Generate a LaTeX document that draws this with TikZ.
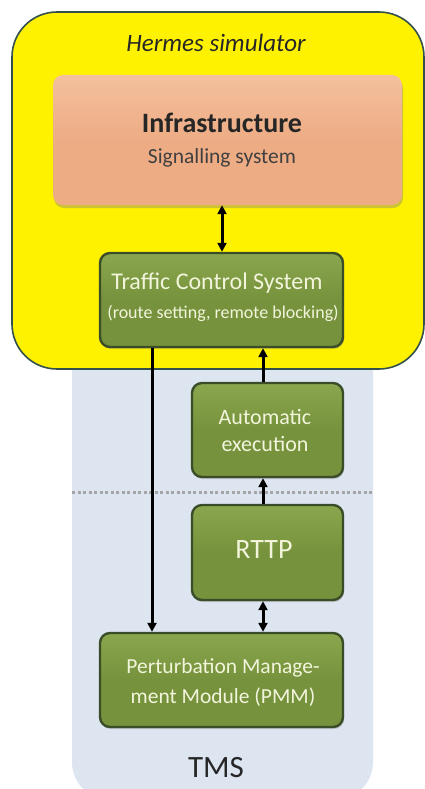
\documentclass[tikz,border=0pt]{standalone}
\usepackage{fontspec}
\setmainfont{Carlito}
\usetikzlibrary{arrows.meta,shadows}
\definecolor{gbox}{HTML}{76923C}
\definecolor{gboxtop}{HTML}{8AA74E}
\definecolor{gborder}{HTML}{3A4D28}
\definecolor{gtext}{HTML}{F2F5DC}
\definecolor{salmon}{HTML}{EDAC84}
\definecolor{salmontop}{HTML}{F4C09E}
\definecolor{tmsblue}{HTML}{DCE5F0}
\definecolor{ybord}{HTML}{34504A}
\tikzset{
  greenbox/.style={draw=gborder, line width=2.4pt, rounded corners=10pt, top color=gboxtop, bottom color=gbox, middle color=gbox, drop shadow={shadow xshift=1pt, shadow yshift=-2pt, opacity=0.35}},
  arr/.style={line width=3pt, -{Triangle[length=9pt,width=9pt]}},
  darr/.style={line width=3pt, {Triangle[length=9pt,width=9pt]}-{Triangle[length=9pt,width=9pt]}},
  gt/.style={text=gtext, align=center}
}
\begin{document}
\begin{tikzpicture}[x=1pt,y=-1pt]
\useasboundingbox (0,0) rectangle (425,789);
\fill[white] (0,0) rectangle (425,789);
% TMS region
\fill[tmsblue, rounded corners=38pt] (72,300) rectangle (373,800);
% Hermes region
\draw[fill=yellow, draw=ybord, line width=1.6pt, rounded corners=45pt] (12,12) rectangle (424,369);
\node[font=\fontsize{25}{30}\selectfont\itshape, text=black!85] (hermes) at (216,43) {Hermes simulator};
% Infrastructure
\node[draw=none, rounded corners=10pt, top color=salmontop, bottom color=salmon, middle color=salmon, minimum width=349pt, minimum height=130pt, drop shadow={shadow xshift=1pt, shadow yshift=-3pt, opacity=0.4}] (infra) at (227.5,140) {};
\node[font=\fontsize{28}{32}\selectfont\bfseries, text=black!85] (infrat) at (222,123) {Infrastructure};
\node[font=\fontsize{21.5}{26}\selectfont, text=black!75] (infras) at (222,158) {Signalling system};
% TCS
\node[greenbox, minimum width=243pt, minimum height=94pt] (tcs) at (221.5,300) {};
\node[gt, font=\fontsize{24}{28}\selectfont] (tcs1) at (217,283) {Traffic Control System};
\node[gt, font=\fontsize{18}{22}\selectfont] (tcs2) at (223,313) {(route setting, remote blocking)};
% Automatic execution
\node[greenbox, minimum width=151pt, minimum height=94pt] (auto) at (267.5,430) {};
\node[gt, font=\fontsize{22}{27}\selectfont] (autot) at (265,430) {Automatic\\execution};
% dotted separator
\coordinate (dl) at (72,492);
\coordinate (dr) at (373,492);
\draw[gray!70, line width=3pt, dash pattern=on 3pt off 2.5pt] (dl) -- (dr);
% RTTP
\node[greenbox, minimum width=151pt, minimum height=95pt] (rttp) at (267.5,552.5) {};
\node[gt, font=\fontsize{28}{32}\selectfont] (rttpt) at (264,550) {RTTP};
% PMM
\node[greenbox, minimum width=243pt, minimum height=94pt] (pmm) at (221.5,680) {};
\node[gt, font=\fontsize{21.5}{30}\selectfont] (pmmt) at (223,683) {Perturbation Manage-\\ment Module (PMM)};
% TMS label
\node[font=\fontsize{31}{36}\selectfont, text=black!85] (tms) at (216,768) {TMS};
% connectors
\draw[darr] (infra.south -| 222,0) -- (tcs.north -| 222,0);
\draw[arr] (auto.north -| 263,0) -- (tcs.south -| 263,0);
\draw[arr] (rttp.north -| 263,0) -- (auto.south -| 263,0);
\draw[darr] (rttp.south -| 263,0) -- (pmm.north -| 263,0);
\draw[arr] (tcs.south -| 152,0) -- (pmm.north -| 152,0);
\end{tikzpicture}
\end{document}
